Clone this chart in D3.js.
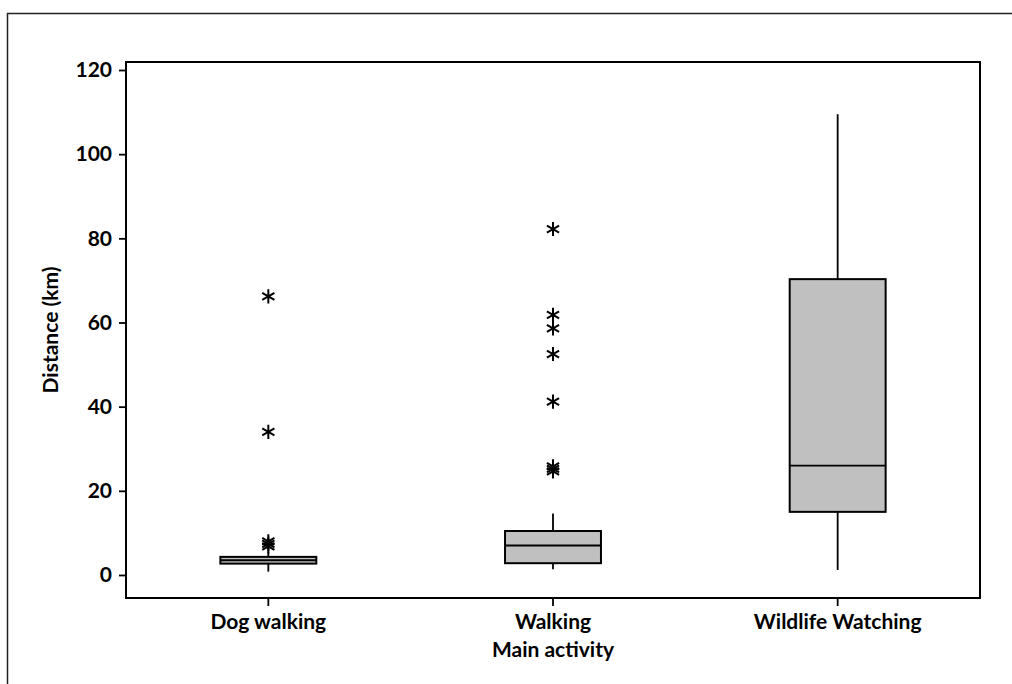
<!DOCTYPE html>
<html>
<head>
<meta charset="utf-8">
<script src="https://cdn.jsdelivr.net/npm/d3@7"></script>
<style>
  body { margin: 0; background: #fff; }
  text { font-family: Lato, "Liberation Sans", sans-serif; font-weight: bold; fill: #000; }
</style>
</head>
<body>
<script>
// data
const categories = ['Dog walking', 'Walking', 'Wildlife Watching']
const whiskerLow = [0.8, 1.35, 1.2]
const q1 = [2.7, 2.8, 15.0]
const median = [3.5, 7.0, 26.0]
const q3 = [4.3, 10.45, 70.3]
const whiskerHigh = [5.5, 14.6, 109.5]
const outliers = [
    [6.8, 7.4, 8.0, 34.0, 66.2],
    [24.6, 25.2, 25.8, 41.2, 52.5, 58.6, 61.8, 82.2],
    []
]
const yTicks = [0, 20, 40, 60, 80, 100, 120]

const m = { width: 1012, height: 684 }
const plot = { left: 126, right: 980, top: 62, bottom: 598 }

const svg = d3.select('body').append('svg')
    .attr('width', m.width)
    .attr('height', m.height)

// outer frame (open on right and bottom, runs off the page)
svg.append('rect')
    .attr('x', 7.5).attr('y', 13.5)
    .attr('width', 1100).attr('height', 800)
    .attr('fill', 'none')
    .attr('stroke', '#222')
    .attr('stroke-width', 1.5)

const x = d3.scaleBand()
    .domain(categories)
    .range([plot.left, plot.right])
    .paddingInner(0.663)
    .paddingOuter(0.663 / 2)

const y = d3.scaleLinear()
    .domain([-5.47, 121.9])
    .range([plot.bottom, plot.top])

const g = svg.append('g')

// axes
const yAxis = g.append('g')
    .attr('transform', `translate(${plot.left},0)`)
    .call(d3.axisLeft(y).tickValues(yTicks).tickSize(7).tickPadding(7))
const xAxis = g.append('g')
    .attr('transform', `translate(0,${plot.bottom})`)
    .call(d3.axisBottom(x).tickSize(8))

yAxis.select('.domain').remove()
xAxis.select('.domain').remove()
g.selectAll('.tick line').attr('stroke', '#000').attr('stroke-width', 1.8)
g.selectAll('.tick text').attr('font-size', 21)
xAxis.selectAll('.tick text').attr('y', 31).attr('dy', 0)

// plot frame
g.append('rect')
    .attr('x', plot.left).attr('y', plot.top)
    .attr('width', plot.right - plot.left)
    .attr('height', plot.bottom - plot.top)
    .attr('fill', 'none')
    .attr('stroke', '#000')
    .attr('stroke-width', 2)

const boxes = categories.map(function(c, i) {
    return { cat: c, lo: whiskerLow[i], q1: q1[i], med: median[i], q3: q3[i], hi: whiskerHigh[i], out: outliers[i] }
})

const bg = g.selectAll('.box')
    .data(boxes)
    .enter()
    .append('g')
        .attr('class', 'box')

const cx = d => x(d.cat) + x.bandwidth() / 2

// whiskers
bg.append('line')
    .attr('x1', cx).attr('x2', cx)
    .attr('y1', d => y(d.q3)).attr('y2', d => y(d.hi))
    .attr('stroke', '#000').attr('stroke-width', 1.8)
bg.append('line')
    .attr('x1', cx).attr('x2', cx)
    .attr('y1', d => y(d.q1)).attr('y2', d => y(d.lo))
    .attr('stroke', '#000').attr('stroke-width', 1.8)

// box
bg.append('rect')
    .attr('x', d => x(d.cat))
    .attr('width', x.bandwidth())
    .attr('y', d => y(d.q3))
    .attr('height', d => y(d.q1) - y(d.q3))
    .attr('fill', '#c0c0c0')
    .attr('stroke', '#000')
    .attr('stroke-width', 2)

// median
bg.append('line')
    .attr('x1', d => x(d.cat)).attr('x2', d => x(d.cat) + x.bandwidth())
    .attr('y1', d => y(d.med)).attr('y2', d => y(d.med))
    .attr('stroke', '#000').attr('stroke-width', 1.8)

// outliers
const star = d3.symbol().type(d3.symbolAsterisk).size(140)
bg.each(function(d) {
    d3.select(this).selectAll('.out')
        .data(d.out)
        .enter()
        .append('path')
            .attr('class', 'out')
            .attr('d', star)
            .attr('transform', v => `translate(${cx(d)},${y(v)})`)
            .attr('fill', 'none')
            .attr('stroke', '#000')
            .attr('stroke-width', 2)
})

// axis titles
svg.append('text')
    .attr('x', x('Walking') + x.bandwidth() / 2)
    .attr('y', 657)
    .attr('text-anchor', 'middle')
    .attr('font-size', 21)
    .text('Main activity')

svg.append('text')
    .attr('transform', `translate(58,${(plot.top + plot.bottom) / 2}) rotate(-90)`)
    .attr('text-anchor', 'middle')
    .attr('font-size', 21)
    .text('Distance (km)')
</script>
</body>
</html>
